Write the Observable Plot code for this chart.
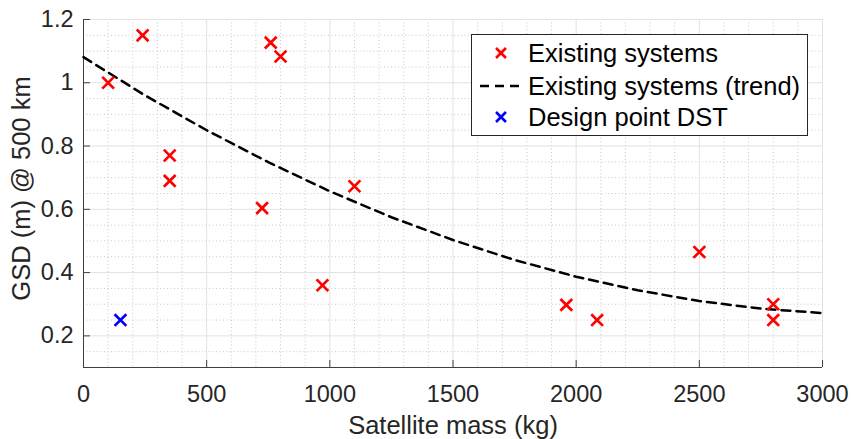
<!DOCTYPE html>
<html><head><meta charset="utf-8">
<script src="https://cdn.jsdelivr.net/npm/d3@7"></script>
<script src="https://cdn.jsdelivr.net/npm/@observablehq/plot@0.6"></script>
<style>body{margin:0;background:#fff} #chart{width:853px;height:439px}</style>
</head><body><div id="chart"></div>
<script>
// Existing systems
const existingMass = [100, 240, 350, 350, 760, 800, 725, 970, 1100, 1960, 2085, 2500, 2800, 2800];
const existingGSD  = [1.00, 1.15, 0.77, 0.69, 1.127, 1.083, 0.604, 0.36, 0.673, 0.298, 0.25, 0.465, 0.30, 0.25];
// Design point DST
const designMass = [150];
const designGSD  = [0.25];
// Trend line
const trendMass = [0, 250, 500, 750, 1000, 1250, 1500, 1750, 2000, 2250, 2500, 2750, 3000];
const trendGSD  = [1.081, 0.960, 0.850, 0.749, 0.657, 0.575, 0.503, 0.440, 0.387, 0.344, 0.310, 0.286, 0.272];
// Ticks
const xTicks = [0, 500, 1000, 1500, 2000, 2500, 3000];
const yTicks = [0.2, 0.4, 0.6, 0.8, 1, 1.2];
const xLabel = "Satellite mass (kg)";
const yLabel = "GSD (m) @ 500 km";
const legendLabels = ["Existing systems", "Existing systems (trend)", "Design point DST"];

const existing = existingMass.map((m, i) => ({mass: m, gsd: existingGSD[i]}));
const design = designMass.map((m, i) => ({mass: m, gsd: designGSD[i]}));
const trend = trendMass.map((m, i) => ({mass: m, gsd: trendGSD[i]}));

const minorX = d3.range(0, 3001, 100).filter(v => v % 500 !== 0);
const minorY = d3.range(0.1, 1.2001, 0.05).map(v => +v.toFixed(2)).filter(v => Math.abs(v * 5 - Math.round(v * 5)) > 1e-6);

const W = 853, H = 439, ML = 83, MR = 31, MT = 19, MB = 72;
const axisColor = "#404040";
const R = 5.4;

const plot = Plot.plot({
  width: W, height: H,
  marginLeft: ML, marginRight: MR, marginTop: MT, marginBottom: MB,
  style: {fontFamily: "Liberation Sans, Arial, sans-serif", fontSize: "23.5px", color: "#262626", background: "#fff", overflow: "visible"},
  x: {domain: [0, 3000], ticks: xTicks, tickSize: 0, tickPadding: 18, tickFormat: d => String(d), label: null},
  y: {domain: [0.1, 1.2], ticks: yTicks, tickSize: 0, tickPadding: 10, tickFormat: d => String(d), label: null},
  marks: [
    Plot.gridX(minorX, {stroke: "#c8c8c8", strokeOpacity: 1, strokeDasharray: "1,2.5"}),
    Plot.gridY(minorY, {stroke: "#c8c8c8", strokeOpacity: 1, strokeDasharray: "1,2.5"}),
    Plot.gridX(xTicks, {stroke: "#e2e2e2", strokeOpacity: 1}),
    Plot.gridY(yTicks, {stroke: "#e2e2e2", strokeOpacity: 1}),
    Plot.ruleX([0], {stroke: axisColor}),
    Plot.ruleY([0.1], {stroke: axisColor}),
    Plot.tickX(xTicks, {stroke: axisColor, insetTop: (H - MT - MB) - 7}),
    Plot.tickY(yTicks, {stroke: axisColor, insetRight: (W - ML - MR) - 7}),
    Plot.line(trend, {x: "mass", y: "gsd", stroke: "black", strokeWidth: 2.5, strokeDasharray: "9,6"}),
    Plot.dot(existing, {x: "mass", y: "gsd", symbol: "times", r: R, stroke: "red", strokeWidth: 2.7}),
    Plot.dot(design, {x: "mass", y: "gsd", symbol: "times", r: R, stroke: "blue", strokeWidth: 2.7}),
    Plot.text([xLabel], {frameAnchor: "bottom", dy: 66, lineAnchor: "bottom", textAnchor: "middle", fontSize: 25.5, fill: "#262626"}),
    Plot.text([yLabel], {frameAnchor: "left", dx: -54, dy: -5, rotate: -90, lineAnchor: "bottom", textAnchor: "middle", fontSize: 25.5, fill: "#262626"})
  ]
});

// Legend box (inside the plot area)
const ns = "http://www.w3.org/2000/svg";
const g = document.createElementNS(ns, "g");
g.setAttribute("text-anchor", "start");
const lx = 471.5, ly = 34.5, lw = 336, lh = 101;
const rect = document.createElementNS(ns, "rect");
rect.setAttribute("x", lx); rect.setAttribute("y", ly);
rect.setAttribute("width", lw); rect.setAttribute("height", lh);
rect.setAttribute("fill", "#fff"); rect.setAttribute("stroke", "#262626"); rect.setAttribute("stroke-width", 1);
g.appendChild(rect);
const rowY = [53, 86, 117];
const kinds = ["red", "line", "blue"];
kinds.forEach((k, i) => {
  const cy = rowY[i];
  if (k === "line") {
    const p = document.createElementNS(ns, "path");
    p.setAttribute("d", `M480,${cy}L523,${cy}`);
    p.setAttribute("stroke", "black"); p.setAttribute("stroke-width", 2.5);
    p.setAttribute("stroke-dasharray", "9,6"); p.setAttribute("fill", "none");
    g.appendChild(p);
  } else {
    const p = document.createElementNS(ns, "path");
    p.setAttribute("d", d3.symbol(d3.symbolTimes, Math.PI * 4.6 * 4.6)());
    p.setAttribute("transform", `translate(501,${cy})`);
    p.setAttribute("stroke", k); p.setAttribute("stroke-width", 2.6); p.setAttribute("fill", "none");
    g.appendChild(p);
  }
  const t = document.createElementNS(ns, "text");
  t.setAttribute("x", 528); t.setAttribute("y", cy + 9);
  t.setAttribute("font-size", 25.5); t.setAttribute("fill", "#000");
  t.setAttribute("text-anchor", "start");
  t.textContent = legendLabels[i];
  g.appendChild(t);
});
plot.appendChild(g);
document.getElementById("chart").appendChild(plot);
</script>
</body></html>
